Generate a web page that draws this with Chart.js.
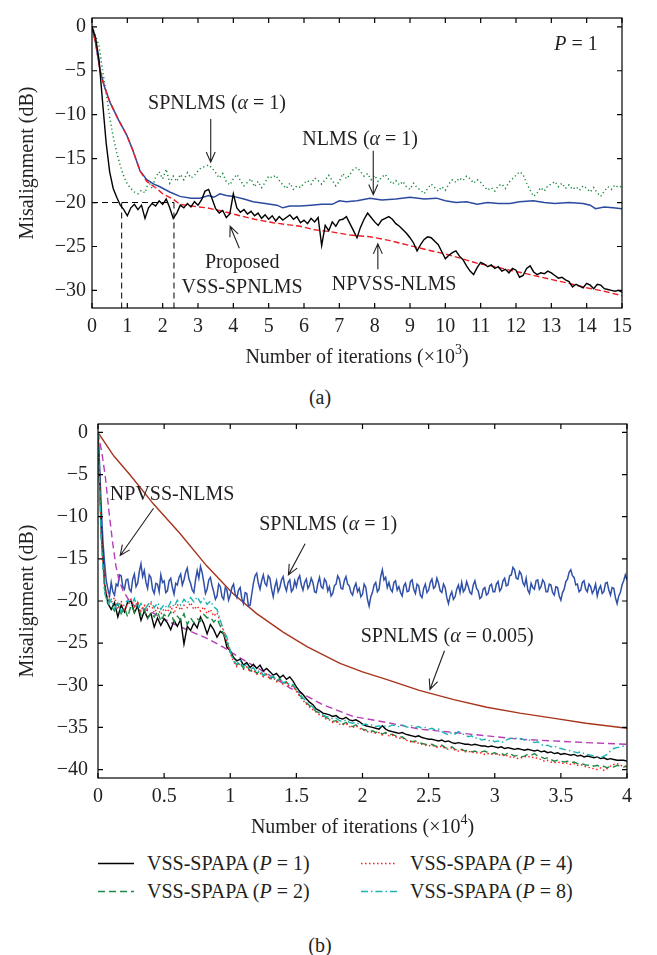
<!DOCTYPE html>
<html>
<head>
<meta charset="utf-8">
<script src="https://cdn.jsdelivr.net/npm/chart.js@4.4.1/dist/chart.umd.min.js"></script>
<style>
  html, body { margin: 0; padding: 0; background: #fff; }
  body { width: 657px; height: 955px; position: relative; overflow: hidden;
         font-family: "Liberation Serif", "Times New Roman", serif; color: #231f20; }
  canvas { position: absolute; left: 0; }
  #chartA { top: 0; }
  #chartB { top: 380px; }
  .cap { position: absolute; font-size: 20px; transform: translate(-50%, -50%); white-space: nowrap; }
  .leg { position: absolute; display: flex; align-items: center; font-size: 20px;
         white-space: nowrap; transform: translateY(-50%); }
  .leg svg { margin-right: 13px; }
  .leg i { font-style: italic; }
</style>
</head>
<body>
<canvas id="chartA" width="657" height="380"></canvas>
<div class="cap" style="left:320px; top:397px">(a)</div>
<canvas id="chartB" width="657" height="470"></canvas>
<div id="legend"></div>
<div class="cap" style="left:320px; top:945px">(b)</div>

<script>
/* ---------- (a) P = 1, x in 10^3 iterations ---------- */
const STEP_A = 0.1;

// Proposed VSS-SPNLMS, one value every 100 iterations
const vssSpnlmsA = [
  0, -1.2, -3.8, -8.6, -13.2, -16.5, -18.4, -19.4, -20.3, -20.8,
  -21.5, -20.6, -20.2, -20.8, -20.3, -21.8, -20.6, -20.1, -20.4, -19.8,
  -20.2, -19.6, -20.6, -21.8, -21.2, -20.3, -20.6, -20.1, -20.5, -19.9,
  -20.3, -19.7, -18.7, -18.5, -19.6, -20.7, -21.2, -20.9, -21.7, -21.3,
  -19.0, -20.6, -21.1, -20.8, -21.3, -21.0, -21.5, -21.2, -21.8, -21.4,
  -21.9, -21.5, -22.1, -21.6, -22.0, -21.7, -21.4, -21.9, -21.6, -22.3,
  -22.0, -22.4, -21.8, -22.2, -21.7, -24.9, -22.6, -23.2, -22.2, -22.7,
  -22.0, -21.9, -21.6, -22.4, -23.2, -24.0, -22.8, -21.9, -21.2, -21.7,
  -22.2, -22.6, -22.0, -21.8, -21.6, -21.9, -22.4, -22.7, -23.1, -23.5,
  -24.0, -24.6, -25.5, -24.8, -24.2, -23.9, -24.0, -24.4, -24.8, -25.6,
  -26.4, -26.0, -25.7, -25.5, -26.1, -26.5, -27.2, -27.8, -28.2, -27.4,
  -26.8, -27.0, -27.3, -27.1, -27.5, -27.3, -27.8, -27.6, -28.0, -27.5,
  -27.7, -28.5, -28.3, -27.5, -27.2, -27.9, -28.2, -28.0, -28.1, -27.8,
  -28.0, -28.3, -28.6, -28.5, -28.8, -29.0, -29.6, -29.3, -29.5, -29.7,
  -29.2, -29.4, -29.8, -29.3, -29.4, -29.8, -29.9, -30.0, -30.1, -30.0,
  -30.2
];

// SPNLMS (alpha = 1)
const spnlmsA = [
  0, -1.0, -2.2, -5.0, -7.5, -10.3, -12.5, -14.3, -15.8, -17.0,
  -17.9, -18.4, -18.8, -19.0, -18.6, -18.9, -17.6, -18.4, -17.1, -16.5,
  -17.3, -16.2, -17.8, -17.0, -17.6, -16.8, -17.4, -16.6, -17.2, -16.9,
  -16.4, -16.0, -15.9, -15.7, -16.1, -16.6, -17.2, -16.7, -17.6, -18.0,
  -17.3, -16.8, -17.5, -18.1, -17.7, -17.3, -18.2, -17.6, -18.3, -17.7,
  -17.0, -17.2, -16.9, -17.5, -18.0, -18.4, -17.8, -18.5, -18.1, -18.3,
  -17.8, -17.5, -17.9, -17.2, -17.5, -17.9, -17.4, -16.9, -17.5, -18.1,
  -17.6, -16.7, -17.3, -16.8, -16.2, -16.0, -16.5, -17.0, -16.7, -17.4,
  -16.9, -17.6, -17.1, -16.8, -17.4, -17.9, -17.5, -18.0, -17.6, -18.2,
  -18.5, -17.8, -18.3, -18.6, -19.0, -18.4, -17.9, -18.3, -18.7, -18.2,
  -18.6, -17.9, -17.4, -17.7, -17.2, -17.5, -17.0, -17.3, -17.8, -17.4,
  -17.7, -18.2, -18.6, -18.3, -18.7, -18.1, -17.9, -18.4, -17.7, -17.3,
  -16.9, -16.5, -16.8, -17.8, -18.6, -19.3, -18.9, -18.3, -18.7, -18.1,
  -17.9, -17.6, -18.2, -17.8, -18.4, -18.0, -18.5, -18.2, -18.6, -18.1,
  -18.4, -18.8, -18.3, -18.9, -19.3, -18.7, -18.2, -18.5, -18.0, -18.3,
  -18.1
];

// NLMS (alpha = 1): [iterations x10^3, dB]
const nlmsA = [
  [0, 0], [0.1, -1.8], [0.23, -5], [0.35, -6.8], [0.51, -8.6], [0.75, -10.6],
  [0.98, -12.3], [1.15, -14.0], [1.36, -16.4], [1.55, -17.4], [1.75, -17.9],
  [1.92, -18.2], [2.2, -18.8], [2.49, -19.3], [2.8, -19.5], [3.06, -19.5],
  [3.3, -19.2], [3.45, -19.4], [3.62, -19.0], [3.8, -19.2], [4.0, -19.3],
  [4.3, -19.6], [4.56, -19.9], [4.9, -20.1], [5.23, -20.3], [5.4, -20.6],
  [5.6, -20.4], [5.9, -20.4], [6.2, -20.3], [6.5, -20.2], [6.8, -20.2],
  [7.0, -19.8], [7.2, -19.9], [7.5, -19.8], [7.87, -19.5], [8.2, -19.7],
  [8.6, -19.6], [9.0, -19.4], [9.4, -19.6], [9.75, -19.5], [10.0, -19.8],
  [10.3, -20.0], [10.6, -19.9], [10.9, -20.2], [11.2, -20.0], [11.5, -20.1],
  [11.83, -20.1], [12.1, -19.9], [12.49, -19.8], [12.8, -20.0], [13.1, -20.1],
  [13.5, -20.0], [13.9, -20.1], [14.1, -20.3], [14.25, -20.7], [14.5, -20.5],
  [14.75, -20.6], [15, -20.7]
];

// NPVSS-NLMS
const npvssA = [
  [0, 0], [0.1, -1.8], [0.23, -5], [0.35, -6.8], [0.51, -8.6], [0.75, -10.6],
  [0.98, -12.3], [1.15, -14.0], [1.36, -16.4], [1.55, -17.6], [1.83, -18.4],
  [2.0, -19.0], [2.29, -19.6], [2.49, -20.2], [3.0, -20.5], [3.25, -20.6],
  [3.7, -21.0], [4.19, -21.5], [4.6, -21.9], [5.13, -22.3], [5.5, -22.5],
  [5.89, -22.7], [6.3, -23.1], [6.73, -23.3], [7.3, -23.7], [7.87, -23.9],
  [8.4, -24.3], [9.0, -24.9], [9.5, -25.4], [9.94, -25.8], [10.4, -26.3],
  [10.89, -26.9], [11.4, -27.3], [11.83, -27.7], [12.4, -28.2], [13.05, -28.8],
  [13.5, -29.2], [14.0, -29.7], [14.5, -30.1], [15, -30.6]
];

// -20 dB reached after these many iterations (x10^3)
const guideIters = [0.84, 2.32];
const guideLevel = -20;

/* ---------- (b) x in 10^4 iterations ---------- */
const STEP_B = 0.025;
const STEP_B_FINE = 0.0125;

// SPNLMS (alpha = 1), one value every 125 iterations
const spnlmsB = [
  0, -4.0, -9.0, -13.0, -15.5, -17.6, -18.6, -19.4, -17.8, -18.9, -19.3, -18.0, -18.2, -16.9, -17.0, -18.3, -18.6, -17.5, -17.4, -18.6,
  -18.9, -17.4, -16.8, -18.3, -17.9, -16.5, -15.6, -17.1, -16.4, -17.8, -18.5, -16.9, -17.2, -18.6, -19.1, -17.9, -18.0, -18.9, -16.9, -17.8,
  -17.6, -19.0, -18.8, -17.6, -17.3, -18.4, -19.2, -17.9, -18.1, -17.2, -16.8, -18.1, -17.5, -16.6, -16.1, -17.4, -17.9, -18.7, -19.0, -17.5,
  -16.4, -17.3, -15.9, -16.6, -17.8, -19.1, -18.6, -17.5, -17.2, -18.2, -18.9, -19.8, -19.4, -18.0, -18.3, -19.5, -19.8, -18.4, -18.7, -19.9,
  -19.3, -18.4, -18.0, -19.2, -19.6, -18.7, -18.4, -19.7, -20.3, -19.0, -19.1, -20.6, -20.5, -19.2, -17.9, -17.0, -16.7, -17.9, -18.6, -17.6,
  -16.9, -17.9, -18.2, -17.0, -17.3, -18.6, -19.5, -18.3, -17.6, -18.9, -18.4, -17.5, -17.1, -18.2, -18.8, -17.8, -17.5, -18.9, -18.6, -17.6,
  -18.3, -17.4, -17.0, -18.1, -18.7, -17.8, -17.4, -18.5, -18.1, -17.3, -17.8, -18.9, -19.0, -17.9, -17.2, -18.3, -18.5, -17.4, -17.7, -18.8,
  -18.3, -19.4, -19.1, -18.2, -18.0, -17.0, -17.4, -18.5, -18.6, -17.6, -17.1, -18.0, -18.2, -19.0, -19.3, -18.4, -17.9, -18.9, -18.5, -19.5,
  -19.2, -18.0, -18.4, -19.8, -20.6, -19.5, -19.0, -18.1, -17.8, -18.9, -18.6, -17.1, -16.3, -17.5, -17.2, -18.4, -17.8, -18.6, -18.9, -17.8,
  -17.6, -18.7, -18.3, -19.0, -19.4, -18.2, -17.9, -18.9, -18.8, -17.7, -17.5, -18.6, -19.1, -18.0, -18.2, -19.3, -19.6, -18.5, -18.0, -19.0,
  -18.7, -17.8, -17.4, -18.5, -18.3, -17.3, -17.9, -18.8, -19.0, -18.0, -18.4, -19.6, -20.3, -19.4, -18.9, -19.8, -19.5, -18.6, -18.1, -19.0,
  -17.8, -18.9, -18.6, -17.7, -18.3, -19.0, -19.2, -18.1, -17.6, -18.5, -18.8, -19.7, -19.5, -18.6, -18.4, -19.3, -19.1, -18.2, -18.0, -18.9,
  -18.9, -18.0, -17.7, -18.8, -18.5, -17.6, -17.3, -18.2, -18.1, -17.0, -16.9, -16.0, -16.3, -17.3, -17.4, -16.5, -16.8, -17.8, -18.2, -17.3,
  -18.7, -19.1, -17.9, -18.4, -18.6, -17.6, -17.5, -18.6, -18.3, -17.5, -17.8, -18.9, -18.9, -18.0, -18.1, -19.0, -19.3, -18.3, -18.4, -19.4,
  -19.9, -19.0, -18.6, -17.7, -17.4, -16.6, -16.3, -17.0, -17.2, -18.1, -18.0, -18.9, -18.7, -17.8, -17.6, -18.6, -18.9, -18.0, -18.3, -19.1,
  -18.7, -18.0, -19.4, -18.6, -18.2, -19.1, -18.9, -17.9, -17.8, -18.7, -19.3, -18.4, -18.5, -19.6, -20.3, -19.4, -19.0, -18.1, -17.6, -16.9,
  -17.5
];

// VSS-SPAPA, P = 1, one value every 250 iterations
const spapa1 = [
  0, -11.5, -18.0, -20.3, -21.0, -20.2, -21.9, -20.5, -21.3, -20.1,
  -20.0, -21.4, -20.6, -22.3, -21.2, -22.0, -21.5, -23.1, -22.0, -22.9,
  -22.1, -22.6, -23.4, -22.3, -23.0, -22.2, -25.1, -23.0, -23.5, -22.6,
  -23.2, -21.9, -22.7, -23.9, -22.8, -23.4, -24.3, -23.6, -23.9, -25.5,
  -25.9, -26.7, -27.1, -26.9, -27.6, -27.3, -27.9, -27.5, -28.0, -27.6,
  -28.3, -28.0, -28.4, -28.8, -28.6, -29.1, -28.8, -29.3, -29.0, -29.5,
  -30.2, -30.7, -31.1, -31.6, -32.0, -32.3, -32.8, -33.0, -33.3, -33.4,
  -33.5, -33.7, -33.6, -33.9, -34.0, -33.8, -34.1, -34.2, -34.1, -34.3,
  -34.6, -34.8, -34.9, -35.0, -35.1, -35.2, -34.8, -35.2, -35.4, -35.5,
  -35.6, -35.7, -35.6, -35.8, -35.9, -36.0, -36.1, -36.0, -36.2, -36.3,
  -36.4, -36.4, -36.5, -36.6, -36.5, -36.7, -36.6, -36.8, -36.9, -36.8,
  -36.9, -37.0, -37.0, -37.1, -37.0, -37.1, -37.2, -37.2, -37.3, -37.2,
  -37.3, -37.4, -37.3, -37.5, -37.4, -37.5, -37.6, -37.5, -37.6, -37.7,
  -37.6, -37.7, -37.8, -37.7, -37.9, -37.8, -38.0, -37.9, -38.1, -38.0,
  -38.2, -38.1, -38.2, -38.3, -38.2, -38.4, -38.3, -38.5, -38.4, -38.5,
  -38.6, -38.5, -38.7, -38.6, -38.8, -38.7, -38.8, -38.9, -38.9, -38.9,
  -39.0
];

// VSS-SPAPA, P = 2
const spapa2 = [
  0, -12.5, -18.6, -19.8, -20.6, -21.2, -20.3, -21.5, -20.8, -21.9,
  -20.5, -21.3, -20.2, -21.7, -21.0, -22.1, -21.4, -21.9, -21.2, -22.4,
  -21.6, -22.0, -21.3, -22.5, -21.8, -22.3, -21.5, -22.8, -22.0, -22.6,
  -22.1, -22.4, -21.6, -22.0, -21.9, -22.5, -22.1, -23.0, -24.0, -24.9,
  -26.0, -27.0, -27.6, -27.2, -28.0, -27.7, -28.3, -28.0, -28.6, -28.3,
  -28.9, -28.6, -29.2, -29.0, -29.5, -29.2, -29.8, -29.6, -30.1, -30.0,
  -30.6, -31.2, -31.6, -32.1, -32.4, -32.8, -33.1, -33.3, -33.6, -33.8,
  -34.0, -34.3, -34.2, -34.5, -34.6, -34.4, -34.8, -34.9, -34.7, -35.0,
  -35.2, -35.3, -35.5, -35.4, -35.6, -35.5, -35.8, -35.6, -35.9, -35.8,
  -36.0, -36.2, -36.1, -36.4, -36.5, -36.7, -36.6, -36.8, -36.9, -37.0,
  -37.1, -37.0, -37.2, -37.3, -37.1, -37.4, -37.5, -37.3, -37.6, -37.7,
  -37.6, -37.8, -37.7, -37.9, -37.8, -38.0, -37.9, -37.8, -38.0, -38.1,
  -38.0, -38.2, -38.1, -38.3, -38.0, -38.2, -38.4, -38.3, -38.5, -38.4,
  -38.2, -38.3, -38.1, -38.4, -38.5, -38.7, -38.6, -38.8, -39.0, -38.9,
  -39.0, -39.1, -39.0, -39.2, -39.1, -39.3, -39.2, -39.4, -39.5, -39.4,
  -39.6, -39.5, -39.7, -39.6, -39.8, -39.6, -39.7, -39.5, -39.6, -39.7,
  -39.6
];

// VSS-SPAPA, P = 4
const spapa4 = [
  0, -12.0, -18.2, -19.5, -20.2, -19.6, -20.8, -20.0, -21.0, -20.4,
  -19.8, -20.7, -20.1, -21.2, -20.5, -21.0, -20.3, -21.4, -20.8, -21.6,
  -20.9, -21.3, -20.6, -21.5, -20.4, -21.1, -20.5, -20.8, -20.2, -21.0,
  -20.6, -21.2, -20.7, -21.5, -21.0, -21.8, -21.4, -22.5, -23.6, -24.8,
  -26.2, -27.2, -27.8, -27.4, -28.1, -27.8, -28.4, -28.2, -28.7, -28.5,
  -29.0, -28.7, -29.3, -29.1, -29.6, -29.4, -29.9, -29.7, -30.2, -30.1,
  -30.7, -31.3, -31.8, -32.2, -32.6, -32.9, -33.2, -33.5, -33.7, -34.0,
  -34.1, -34.4, -34.3, -34.6, -34.7, -34.5, -34.9, -35.0, -34.8, -35.1,
  -35.3, -35.4, -35.6, -35.5, -35.7, -35.6, -35.9, -35.7, -36.0, -35.9,
  -36.1, -36.3, -36.2, -36.5, -36.6, -36.8, -36.7, -36.9, -37.0, -37.1,
  -37.2, -37.1, -37.3, -37.4, -37.2, -37.5, -37.6, -37.4, -37.7, -37.8,
  -37.7, -37.9, -37.8, -38.0, -37.9, -38.1, -38.0, -38.2, -38.1, -38.2,
  -38.1, -38.3, -38.2, -38.4, -38.3, -38.6, -38.5, -38.7, -38.6, -38.5,
  -38.4, -38.6, -38.5, -38.7, -38.8, -39.0, -38.9, -39.1, -39.2, -39.1,
  -39.2, -39.3, -39.2, -39.4, -39.3, -39.5, -39.4, -39.6, -39.7, -39.8,
  -39.9, -40.0, -39.8, -40.1, -39.9, -39.6, -39.4, -39.3, -39.5, -39.6,
  -39.6
];

// VSS-SPAPA, P = 8
const spapa8 = [
  0, -13.0, -19.0, -20.5, -19.8, -20.9, -20.2, -21.3, -20.4, -19.9,
  -20.6, -19.7, -20.9, -20.3, -21.1, -20.5, -20.0, -20.8, -20.2, -21.0,
  -20.4, -20.9, -20.1, -20.7, -19.9, -20.5, -19.8, -20.3, -19.6, -20.1,
  -19.5, -20.2, -19.7, -20.4, -20.0, -20.7, -21.0, -22.3, -23.5, -24.3,
  -25.9, -27.1, -27.5, -27.0, -27.8, -27.5, -28.1, -27.9, -28.5, -28.2,
  -28.8, -28.5, -29.1, -28.9, -29.4, -29.2, -29.7, -29.5, -30.0, -29.9,
  -30.5, -31.0, -31.5, -31.9, -32.3, -32.6, -33.0, -33.2, -33.5, -33.7,
  -33.8, -34.0, -33.9, -34.2, -34.3, -34.1, -34.4, -34.5, -34.4, -34.6,
  -34.7, -34.6, -34.8, -34.7, -34.9, -34.8, -35.0, -34.8, -34.9, -34.7,
  -34.8, -34.9, -34.7, -34.9, -35.0, -34.8, -35.0, -34.9, -35.1, -35.0,
  -35.2, -35.1, -35.3, -35.2, -35.5, -35.7, -35.9, -35.6, -35.8, -35.5,
  -35.7, -35.9, -36.1, -36.0, -36.3, -36.2, -36.5, -36.4, -36.6, -36.5,
  -36.7, -36.6, -36.8, -36.6, -36.4, -36.3, -36.2, -36.4, -36.3, -36.5,
  -36.4, -36.6, -36.8, -36.7, -37.0, -37.2, -37.1, -37.3, -37.2, -37.4,
  -37.5, -37.6, -37.7, -37.8, -37.9, -38.0, -37.9, -38.1, -38.2, -38.3,
  -38.4, -38.5, -38.6, -38.4, -38.2, -37.8, -37.5, -37.4, -37.3, -37.2,
  -37.2
];

// NPVSS-NLMS: [iterations x10^4, dB]
const npvssB = [
  [0, 0], [0.03, -2.5], [0.055, -5.2], [0.08, -9.0], [0.11, -13.0], [0.135, -15.8],
  [0.16, -17.6], [0.19, -18.8], [0.23, -19.8], [0.27, -20.5], [0.4, -21.3],
  [0.57, -22.7], [0.7, -23.6], [0.82, -24.4], [0.95, -25.5], [1.08, -26.8],
  [1.2, -27.9], [1.33, -29.1], [1.45, -30.3], [1.58, -31.3], [1.7, -32.3],
  [1.83, -33.1], [1.93, -33.7], [2.18, -34.4], [2.43, -35.2], [2.69, -35.6],
  [2.94, -36.0], [3.19, -36.4], [3.44, -36.6], [3.69, -36.8], [4.0, -37.0]
];

// SPNLMS (alpha = 0.005)
const spnlmsSlowB = [
  [0, 0], [0.12, -2.8], [0.24, -5.0], [0.42, -8.5], [0.62, -12.0], [0.82, -15.8],
  [1.02, -19.1], [1.2, -21.5], [1.4, -23.7], [1.58, -25.4], [1.83, -27.4],
  [2.0, -28.4], [2.18, -29.3], [2.43, -30.6], [2.69, -31.7], [2.94, -32.6],
  [3.19, -33.3], [3.44, -33.9], [3.69, -34.5], [4.0, -35.1]
];

/* ---------- annotations (data coordinates) ---------- */
const notesA = [
  { at: [3.54, -8.8], text: 'SPNLMS (_α_ = 1)' },
  { at: [7.59, -12.9], text: 'NLMS (_α_ = 1)' },
  { at: [13.7, -2.0], text: '_P_ = 1' },
  { at: [4.25, -26.85], text: 'Proposed' },
  { at: [4.25, -29.75], text: 'VSS-SPNLMS' },
  { at: [8.55, -29.3], text: 'NPVSS-NLMS' }
];
const arrowsA = [
  [[3.36, -10.5], [3.36, -15.4]],
  [[7.96, -14.1], [7.96, -19.1]],
  [[4.17, -25.2], [3.91, -22.7]],
  [[8.09, -27.6], [8.09, -24.7]]
];
const notesB = [
  { at: [0.56, -7.4], text: 'NPVSS-NLMS' },
  { at: [1.74, -11.0], text: 'SPNLMS (_α_ = 1)' },
  { at: [2.64, -24.3], text: 'SPNLMS (_α_ = 0.005)' }
];
const arrowsB = [
  [[0.42, -9.0], [0.168, -14.6]],
  [[1.566, -13.2], [1.44, -16.9]],
  [[2.62, -25.9], [2.51, -30.5]]
];

/* ---------- drawing helpers ---------- */
const SERIF = '"Liberation Serif", "Times New Roman", serif';
const INK = '#231f20';
const FS = 20;

const stepped = (ys, step) => ys.map((y, i) => ({ x: +(i * step).toFixed(4), y }));
const paired = pts => pts.map(([x, y]) => ({ x, y }));
const fmt = v => (v < 0 ? '\u2212' + Math.abs(v) : String(v));

function line(label, data, color, width, dash) {
  return { label, data, borderColor: color, borderWidth: width, borderDash: dash || [],
           pointRadius: 0, fill: false, tension: 0 };
}

// "_x_" = italic, "^x^" = superscript
function richParts(str) {
  return str.split(/(_[^_]+_|\^[^^]+\^)/).filter(Boolean).map(s =>
    s[0] === '_' ? { t: s.slice(1, -1), it: true } :
    s[0] === '^' ? { t: s.slice(1, -1), sup: true } : { t: s });
}
function drawRich(ctx, str, x, y, size) {
  const ps = richParts(str);
  const font = p => `${p.it ? 'italic ' : ''}${p.sup ? Math.round(size * 0.68) : size}px ${SERIF}`;
  let w = 0;
  ps.forEach(p => { ctx.font = font(p); p.w = ctx.measureText(p.t).width; w += p.w; });
  let cx = x - w / 2;
  ctx.textAlign = 'left';
  ctx.textBaseline = 'middle';
  ps.forEach(p => {
    ctx.font = font(p);
    ctx.fillText(p.t, cx, p.sup ? y - size * 0.36 : y);
    cx += p.w;
  });
}
function drawArrow(ctx, x0, y0, x1, y1) {
  const a = Math.atan2(y1 - y0, x1 - x0), L = 11, h = 0.42;
  ctx.beginPath();
  ctx.moveTo(x0, y0); ctx.lineTo(x1, y1);
  ctx.moveTo(x1 - L * Math.cos(a - h), y1 - L * Math.sin(a - h));
  ctx.lineTo(x1, y1);
  ctx.lineTo(x1 - L * Math.cos(a + h), y1 - L * Math.sin(a + h));
  ctx.stroke();
}

// boxed axes with inward ticks, titles, labels and arrows
function decor(cfg) {
  return {
    id: 'decor',
    afterDatasetsDraw(chart) {
      const { ctx, chartArea: a, scales: { x, y } } = chart;
      ctx.save();
      ctx.strokeStyle = '#000';
      ctx.lineWidth = 1.2;
      ctx.setLineDash([]);
      ctx.strokeRect(a.left, a.top, a.width, a.height);
      ctx.beginPath();
      x.ticks.forEach(t => {
        const px = x.getPixelForValue(t.value);
        ctx.moveTo(px, a.bottom); ctx.lineTo(px, a.bottom - 5);
        ctx.moveTo(px, a.top); ctx.lineTo(px, a.top + 5);
      });
      y.ticks.forEach(t => {
        const py = y.getPixelForValue(t.value);
        ctx.moveTo(a.left, py); ctx.lineTo(a.left + 5, py);
        ctx.moveTo(a.right, py); ctx.lineTo(a.right - 5, py);
      });
      ctx.stroke();

      ctx.fillStyle = INK;
      drawRich(ctx, cfg.xTitle, (a.left + a.right) / 2, a.bottom + 50, FS);
      ctx.save();
      ctx.translate(cfg.yTitleX, (a.top + a.bottom) / 2);
      ctx.rotate(-Math.PI / 2);
      drawRich(ctx, cfg.yTitle, 0, 0, FS);
      ctx.restore();

      cfg.notes.forEach(n =>
        drawRich(ctx, n.text, x.getPixelForValue(n.at[0]), y.getPixelForValue(n.at[1]), FS));

      ctx.strokeStyle = INK;
      ctx.lineWidth = 1.1;
      cfg.arrows.forEach(([p, q]) =>
        drawArrow(ctx, x.getPixelForValue(p[0]), y.getPixelForValue(p[1]),
                       x.getPixelForValue(q[0]), y.getPixelForValue(q[1])));
      ctx.restore();
    }
  };
}

function axes(xr, yr, yPad, yWidth, xHeight) {
  const tickFont = { family: SERIF, size: FS };
  return {
    x: { type: 'linear', min: xr[0], max: xr[1],
         afterFit: s => { s.height = xHeight; },
         grid: { display: false, drawTicks: false }, border: { display: false },
         ticks: { stepSize: xr[2], includeBounds: false, padding: 7, maxRotation: 0,
                  autoSkip: false, font: tickFont, color: INK, callback: fmt } },
    y: { type: 'linear', min: yr[0], max: yr[1],
         afterFit: s => { s.width = yWidth; },
         grid: { display: false, drawTicks: false }, border: { display: false },
         ticks: { stepSize: yr[2], includeBounds: false, padding: yPad,
                  font: tickFont, color: INK, callback: fmt } }
  };
}

const baseOpts = {
  responsive: false, animation: false, devicePixelRatio: 1,
  plugins: { legend: { display: false }, tooltip: { enabled: false } },
  events: []
};

/* ---------- chart (a) ---------- */
const guideStyle = (data) => line('', data, '#000', 1, [6, 4]);
new Chart(document.getElementById('chartA'), {
  type: 'line',
  data: {
    datasets: [
      line('Proposed VSS-SPNLMS', stepped(vssSpnlmsA, STEP_A), '#000', 1.4),
      line('NPVSS-NLMS', paired(npvssA), '#ec1c24', 1.4, [6, 3]),
      line('NLMS (α = 1)', paired(nlmsA), '#2b4aa0', 1.5),
      line('SPNLMS (α = 1)', stepped(spnlmsA, STEP_A), '#168a3c', 1.5, [1.2, 2.8]),
      guideStyle([{ x: 0, y: guideLevel }, { x: guideIters[1], y: guideLevel }]),
      ...guideIters.map(it => guideStyle([{ x: it, y: guideLevel }, { x: it, y: -32 }]))
    ]
  },
  options: Object.assign({}, baseOpts, {
    layout: { padding: { left: 0, top: 1, right: 35, bottom: 0 } },
    scales: axes([0, 15, 1], [-32, 1, 5], 6, 92, 72)
  }),
  plugins: [decor({
    xTitle: 'Number of iterations (×10^3^)', yTitle: 'Misalignment (dB)', yTitleX: 28,
    notes: notesA, arrows: arrowsA
  })]
});

/* ---------- chart (b) ---------- */
const spapaStyle = {
  p1: { label: 'VSS-SPAPA (_P_ = 1)', color: '#000000', dash: [] },
  p2: { label: 'VSS-SPAPA (_P_ = 2)', color: '#1f8a46', dash: [7, 4] },
  p4: { label: 'VSS-SPAPA (_P_ = 4)', color: '#ff1a1a', dash: [1.5, 2.5] },
  p8: { label: 'VSS-SPAPA (_P_ = 8)', color: '#1db3b3', dash: [7, 3, 1.5, 3] }
};
const spapaSeries = { p1: spapa1, p2: spapa2, p4: spapa4, p8: spapa8 };

new Chart(document.getElementById('chartB'), {
  type: 'line',
  data: {
    datasets: [
      ...['p8', 'p4', 'p2', 'p1'].map(k =>
        line(spapaStyle[k].label, stepped(spapaSeries[k], STEP_B), spapaStyle[k].color, 1.4, spapaStyle[k].dash)),
      line('NPVSS-NLMS', paired(npvssB), '#b53db5', 1.4, [7, 4]),
      line('SPNLMS (α = 1)', stepped(spnlmsB, STEP_B_FINE), '#3050a8', 1.5),
      line('SPNLMS (α = 0.005)', paired(spnlmsSlowB), '#a8341c', 1.4)
    ]
  },
  options: Object.assign({}, baseOpts, {
    layout: { padding: { left: 0, top: 44, right: 30, bottom: 0 } },
    scales: axes([0, 4, 0.5], [-41, 1, 5], 10, 98, 72)
  }),
  plugins: [decor({
    xTitle: 'Number of iterations (×10^4^)', yTitle: 'Misalignment (dB)', yTitleX: 28,
    notes: notesB, arrows: arrowsB
  })]
});

/* ---------- legend for (b) ---------- */
const legendCells = [
  { key: 'p1', left: 98, top: 863 }, { key: 'p2', left: 98, top: 891 },
  { key: 'p4', left: 361, top: 863 }, { key: 'p8', left: 361, top: 891 }
];
const legendEl = document.getElementById('legend');
legendCells.forEach(c => {
  const s = spapaStyle[c.key];
  const div = document.createElement('div');
  div.className = 'leg';
  div.style.left = c.left + 'px';
  div.style.top = c.top + 'px';
  const html = s.label.replace(/_([^_]+)_/g, '<i>$1</i>');
  div.innerHTML =
    `<svg width="36" height="4"><line x1="0" y1="2" x2="36" y2="2" stroke="${s.color}" ` +
    `stroke-width="1.6" stroke-dasharray="${s.dash.join(' ') || 'none'}"/></svg><span>${html}</span>`;
  legendEl.appendChild(div);
});
</script>
</body>
</html>
